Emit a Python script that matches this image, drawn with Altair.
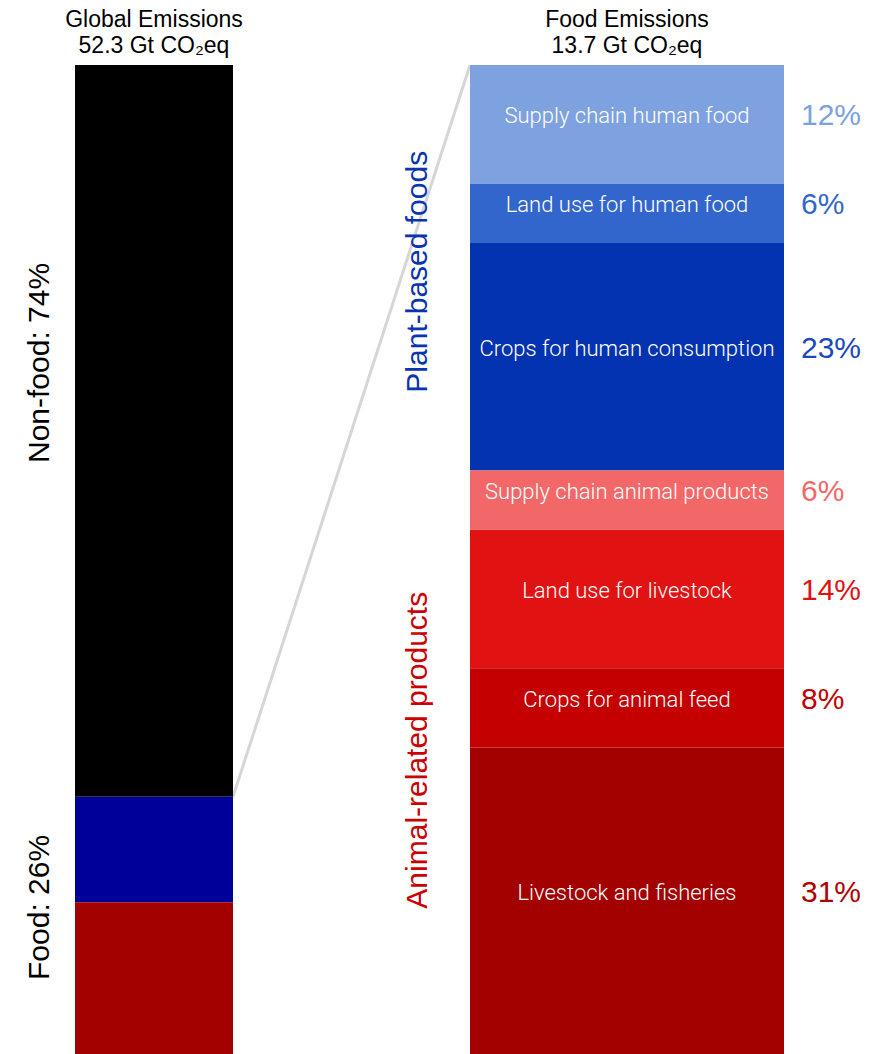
import altair as alt
import pandas as pd

# ---------------- data ----------------
global_categories = ["Non-food", "Food"]
global_shares = [74, 26]
global_total = "52.3"
food_total = "13.7"

food_categories = [
    "Supply chain human food",
    "Land use for human food",
    "Crops for human consumption",
    "Supply chain animal products",
    "Land use for livestock",
    "Crops for animal feed",
    "Livestock and fisheries",
]
food_shares = [12, 6, 23, 6, 14, 8, 31]
food_groups = ["Plant-based foods"] * 3 + ["Animal-related products"] * 4
food_colors = ["#7ea1e0", "#3366cc", "#0333b0", "#f26868", "#e01212", "#c40000", "#a30000"]
pct_colors = ["#7ea1e0", "#3366cc", "#1a48c0", "#f26868", "#e01212", "#c40000", "#b00000"]

group_names = ["Plant-based foods", "Animal-related products"]
group_colors = ["#0a34b0", "#cc0000"]
global_colors = ["#000000", "#000099", "#a30000"]

# ---------------- layout ----------------
W, H = 863, 989
LEFT_X0, LEFT_X1 = 67, 225
RIGHT_X0, RIGHT_X1 = 462, 776
PCT_X = 793
GROUP_X = 410
LEFT_LABEL_X = 32
GROUP_DX = [-4, 12]
LEFT_DX = [68, 18]

# food bar
food = pd.DataFrame({"cat": food_categories, "share": food_shares,
                     "group": food_groups, "color": food_colors, "pcol": pct_colors})
food["y1"] = food["share"].cumsum()
food["y0"] = food["y1"] - food["share"]
food["ym"] = (food["y0"] + food["y1"]) / 2
food["pct"] = food["share"].astype(str) + "%"
food["x0"] = RIGHT_X0
food["x1"] = RIGHT_X1
food["xm"] = (RIGHT_X0 + RIGHT_X1) / 2
food["xp"] = PCT_X

groups = food.groupby("group", sort=False)["share"].sum().reindex(group_names).reset_index()
groups["y1"] = groups["share"].cumsum()
groups["y0"] = groups["y1"] - groups["share"]
groups["ym"] = (groups["y0"] + groups["y1"]) / 2
groups["color"] = group_colors
groups["x"] = GROUP_X

# global bar: non-food then food split into plant / animal
food_share = global_shares[1]
seg_vals = [global_shares[0]] + [food_share * s / 100 for s in groups["share"]]
glob = pd.DataFrame({"seg": ["Non-food"] + group_names, "val": seg_vals, "color": global_colors})
glob["y1"] = glob["val"].cumsum()
glob["y0"] = glob["y1"] - glob["val"]
glob["x0"] = LEFT_X0
glob["x1"] = LEFT_X1

glob_labels = pd.DataFrame({
    "text": [f"{c}: {s}%" for c, s in zip(global_categories, global_shares)],
    "ym": [global_shares[0] / 2, global_shares[0] + food_share / 2],
    "x": LEFT_LABEL_X,
})

connector = pd.DataFrame({"x": [RIGHT_X0], "y": [0], "x2": [LEFT_X1], "y2": [global_shares[0]]})

titles = pd.DataFrame({
    "x": [(LEFT_X0 + LEFT_X1) / 2, (RIGHT_X0 + RIGHT_X1) / 2],
    "l1": ["Global Emissions", "Food Emissions"],
    "l2": [f"{global_total} Gt CO\u2082eq", f"{food_total} Gt CO\u2082eq"],
})

xs = alt.Scale(domain=[0, W], nice=False, zero=False)
ys = alt.Scale(domain=[0, 100], reverse=True, nice=False, zero=False)
X = lambda f: alt.X(f, type="quantitative", scale=xs, axis=None)
Y = lambda f: alt.Y(f, type="quantitative", scale=ys, axis=None)

rule = alt.Chart(connector).mark_rule(color="#d6d6d6", strokeWidth=3).encode(
    x=X("x"), y=Y("y"), x2="x2", y2="y2")

gbars = alt.Chart(glob).mark_rect().encode(
    x=X("x0"), x2="x1", y=Y("y0"), y2="y1", color=alt.Color("color:N", scale=None))

fbars = alt.Chart(food).mark_rect().encode(
    x=X("x0"), x2="x1", y=Y("y0"), y2="y1", color=alt.Color("color:N", scale=None))

seg_text = alt.Chart(food).mark_text(
    font="Roboto", fontSize=22, fontWeight=300, color="white", baseline="middle", align="center", dy=-8
).encode(x=X("xm"), y=Y("ym"), text="cat:N")

pct_text = alt.Chart(food).mark_text(
    font="Liberation Sans", fontSize=30, baseline="middle", align="left", dy=-8
).encode(x=X("xp"), y=Y("ym"), text="pct:N", color=alt.Color("pcol:N", scale=None))

group_layers = []
for i, name in enumerate(group_names):
    group_layers.append(
        alt.Chart(groups).transform_filter(alt.datum.group == name).mark_text(
            font="Liberation Sans", fontSize=30, angle=270, baseline="middle", align="center",
            dx=GROUP_DX[i]
        ).encode(x=X("x"), y=Y("ym"), text="group:N", color=alt.Color("color:N", scale=None))
    )

left_layers = []
for i, t in enumerate(glob_labels["text"]):
    left_layers.append(
        alt.Chart(glob_labels).transform_filter(alt.datum.text == t).mark_text(
            font="Liberation Sans", fontSize=30, angle=270, baseline="middle", align="center",
            color="black", dx=LEFT_DX[i]
        ).encode(x=X("x"), y=Y("ym"), text="text:N")
    )

TFONT = "Liberation Sans"
title1 = alt.Chart(titles).mark_text(
    font=TFONT, fontSize=23, color="black", baseline="alphabetic", align="center"
).encode(x=X("x"), y=alt.value(-38), text="l1:N")
title2 = alt.Chart(titles).mark_text(
    font=TFONT, fontSize=23, color="black", baseline="alphabetic", align="center"
).encode(x=X("x"), y=alt.value(-12), text="l2:N")

chart = alt.layer(rule, gbars, fbars, seg_text, pct_text, *group_layers, *left_layers,
                  title1, title2).properties(
    width=W, height=H,
    autosize=alt.AutoSizeParams(type="none"),
    padding={"left": 0, "top": 57, "right": 0, "bottom": 0},
).configure_view(stroke=None)

chart.save("out.html", embed_options={"renderer": "svg", "actions": False})
